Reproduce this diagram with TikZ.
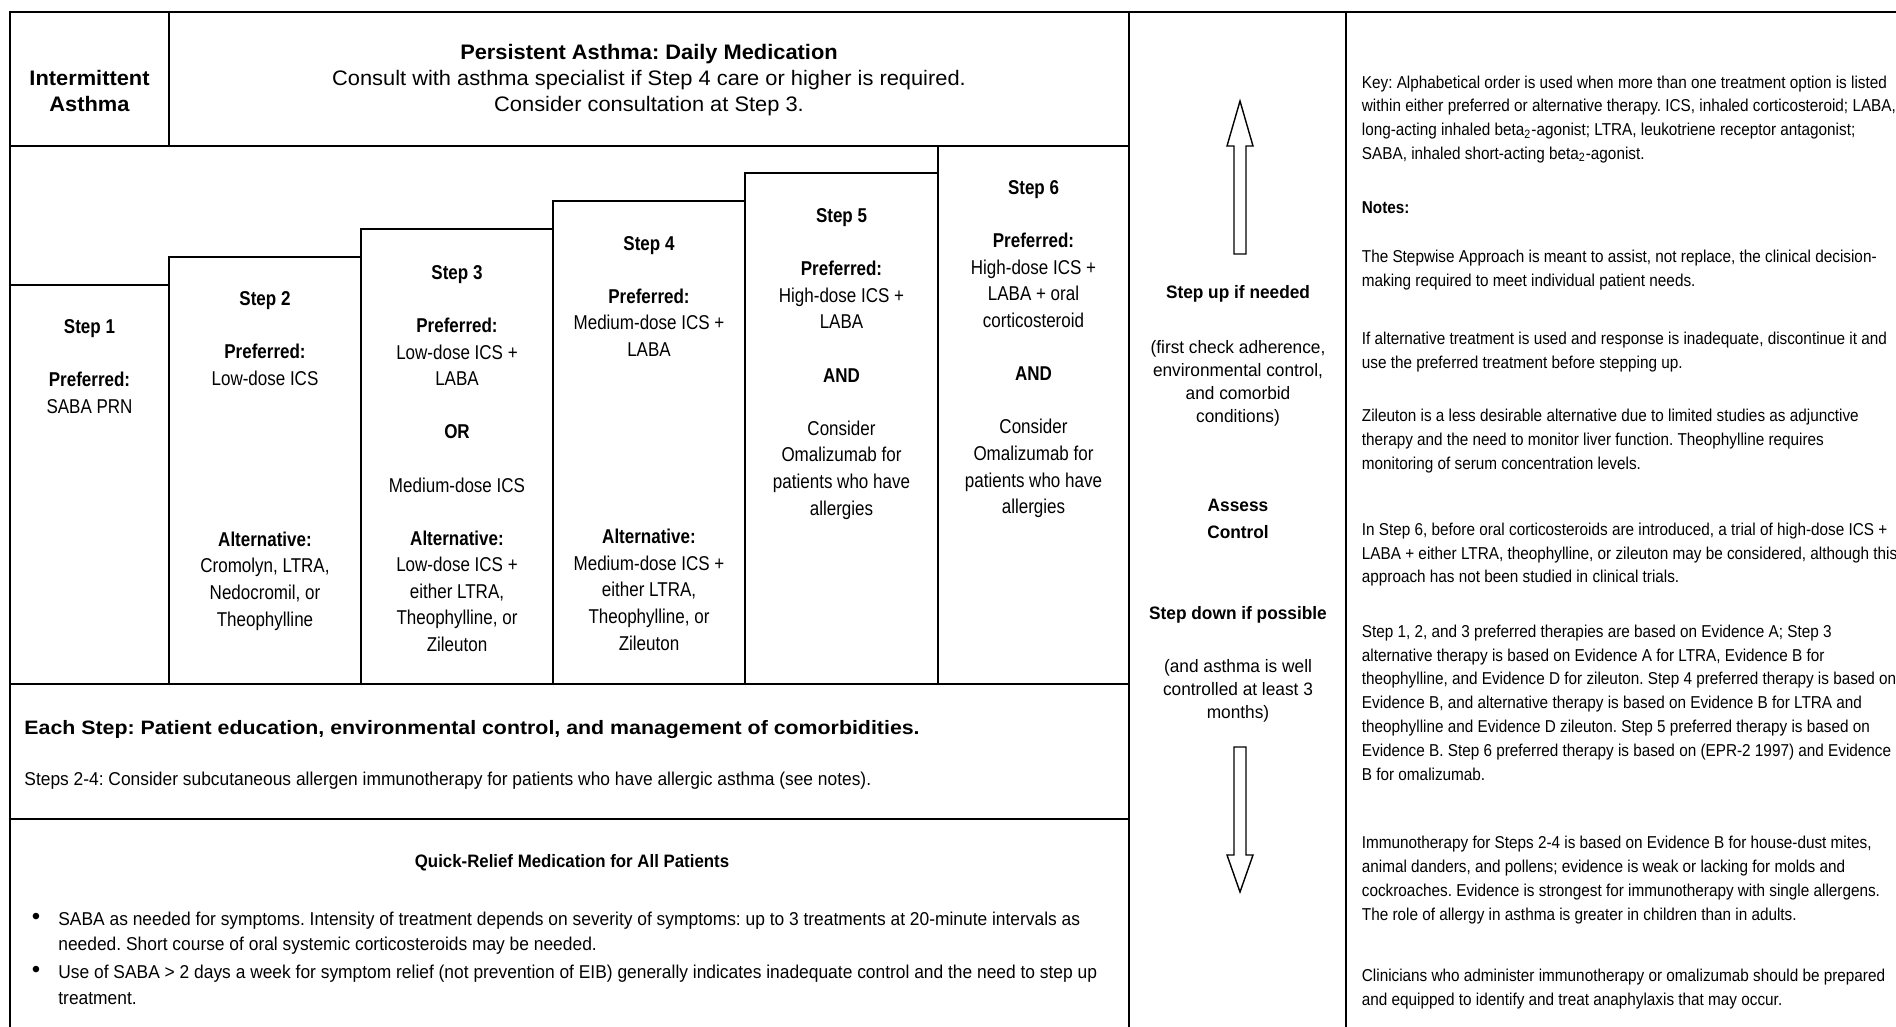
\documentclass[tikz,border=0pt]{standalone}
\usepackage{fontspec}
\setmainfont{Liberation Sans}
\newfontfamily\headfont{Liberation Sans}[FakeStretch=1.04]
\newfontfamily\stepfont{Liberation Sans}[FakeStretch=0.85]
\newfontfamily\midfont{Liberation Sans}[FakeStretch=0.96]
\newfontfamily\bodyfont{Liberation Sans}[FakeStretch=0.935]
\newfontfamily\widefont{Liberation Sans}[FakeStretch=1.1]
\newfontfamily\notefont{Liberation Sans}[FakeStretch=0.89]
\frenchspacing

\begin{document}
\begin{tikzpicture}[
    x=0.5pt, y=-0.5pt,
    rule/.style={line width=1.2pt},
    hollow/.style={line width=0.7pt, line join=miter},
    headtext/.style={align=center, anchor=base, inner sep=0pt, font={\headfont\fontsize{10.5}{13.2}\selectfont}},
    steptext/.style={align=center, anchor=base, inner sep=0pt, font={\stepfont\fontsize{10}{13.3}\selectfont}},
    midtext/.style={align=center, anchor=base, inner sep=0pt, font={\midfont\fontsize{9}{11.5}\selectfont}},
    bodytext/.style={align=left, anchor=base west, inner sep=0pt, font={\bodyfont\fontsize{9.3}{12.6}\selectfont}},
    bullet/.style={anchor=base, inner sep=0pt, font={\fontsize{12}{12}\selectfont}},
    notetext/.style={align=left, anchor=base west, inner sep=0pt, font={\notefont\fontsize{8.6}{11.9}\selectfont}}
]
    \path[use as bounding box, fill=white] (0,0) rectangle (1896,1027);

    % Table frame
    \draw[rule] (10,1027) -- (10,12) -- (1896,12);
    \draw[rule] (169,12) -- (169,146);
    \draw[rule] (10,146) -- (1129,146);
    \draw[rule] (1129,12) -- (1129,1027);
    \draw[rule] (1346,12) -- (1346,1027);
    \draw[rule] (10,684) -- (1129,684);
    \draw[rule] (10,819) -- (1129,819);

    % Staircase of steps
    \draw[rule] (10,285) -- (169,285) -- (169,257) -- (361,257) -- (361,229)
        -- (553,229) -- (553,201) -- (745,201) -- (745,173) -- (938,173) -- (938,146);
    \draw[rule] (169,285) -- (169,684);
    \draw[rule] (361,257) -- (361,684);
    \draw[rule] (553,229) -- (553,684);
    \draw[rule] (745,201) -- (745,684);
    \draw[rule] (938,173) -- (938,684);

    % Header (nodes sit on the baseline of their last line)
    \node[headtext] (intermit) at (89.5,112) {\textbf{Intermittent}\\\textbf{Asthma}};
    \node[headtext] (persist) at (649,112) {\textbf{Persistent Asthma: Daily Medication}\\
        Consult with asthma specialist if Step 4 care or higher is required.\\
        Consider consultation at Step 3.};

    % Steps
    \node[steptext] (s1) at (89.5,413) {\textbf{Step 1}\\[\baselineskip]\textbf{Preferred:}\\SABA PRN};
    \node[steptext] (s2) at (265,385.5) {\textbf{Step 2}\\[\baselineskip]\textbf{Preferred:}\\Low-dose ICS};
    \node[steptext] (alt2) at (265,626) {\textbf{Alternative:}\\Cromolyn, LTRA,\\Nedocromil, or\\Theophylline};
    \node[steptext] (s3) at (457,492) {\textbf{Step 3}\\[\baselineskip]\textbf{Preferred:}\\Low-dose ICS +\\LABA\\[\baselineskip]
        \textbf{OR}\\[\baselineskip]Medium-dose ICS};
    \node[steptext] (alt3) at (457,651.5) {\textbf{Alternative:}\\Low-dose ICS +\\either LTRA,\\Theophylline, or\\Zileuton};
    \node[steptext] (s4) at (649,356.5) {\textbf{Step 4}\\[\baselineskip]\textbf{Preferred:}\\Medium-dose ICS +\\LABA};
    \node[steptext] (alt4) at (649,650) {\textbf{Alternative:}\\Medium-dose ICS +\\either LTRA,\\Theophylline, or\\Zileuton};
    \node[steptext] (s5) at (841.5,515) {\textbf{Step 5}\\[\baselineskip]\textbf{Preferred:}\\High-dose ICS +\\LABA\\[\baselineskip]
        \textbf{AND}\\[\baselineskip]Consider\\Omalizumab for\\patients who have\\allergies};
    \node[steptext] (s6) at (1033.5,513.6) {\textbf{Step 6}\\[\baselineskip]\textbf{Preferred:}\\High-dose ICS +\\LABA + oral\\corticosteroid\\[\baselineskip]
        \textbf{AND}\\[\baselineskip]Consider\\Omalizumab for\\patients who have\\allergies};

    % Step up / step down column
    \draw[hollow] (1234,254) -- (1234,146) -- (1227,146) -- (1240,101) -- (1253,146) -- (1246,146) -- (1246,254) -- cycle;
    \node[midtext] (stepup) at (1238,299) {\textbf{Step up if needed}};
    \node[midtext] (upnote) at (1238,422.5) {(first check adherence,\\environmental control,\\and comorbid\\conditions)};
    \node[midtext, font={\midfont\fontsize{9}{13.3}\selectfont}] (assess) at (1238,538.5) {\textbf{Assess}\\\textbf{Control}};
    \node[midtext] (stepdown) at (1238,619.5) {\textbf{Step down if possible}};
    \node[midtext] (downnote) at (1238,718.5) {(and asthma is well\\controlled at least 3\\months)};
    \draw[hollow] (1234,747) -- (1246,747) -- (1246,855) -- (1253,855) -- (1240,892) -- (1227,855) -- (1234,855) -- cycle;

    % Each step
    \node[bodytext, font={\widefont\fontsize{9.7}{12.6}\selectfont}] (eachstep) at (24,734.5)
        {\textbf{Each Step: Patient education, environmental control, and management of comorbidities.}};
    \node[bodytext] (steps24) at (24,785) {Steps 2-4: Consider subcutaneous allergen immunotherapy for patients who have allergic asthma (see notes).};

    % Quick relief
    \node[bodytext, anchor=base, font={\bodyfont\fontsize{9}{12.6}\selectfont}] (quick) at (572,867.5) {\textbf{Quick-Relief Medication for All Patients}};
    \node[bullet] (dot1) at (36,924.5) {\textbullet};
    \node[bodytext] (item1) at (58,950.5) {SABA as needed for symptoms. Intensity of treatment depends on severity of symptoms: up to 3 treatments at 20-minute intervals as\\
        needed. Short course of oral systemic corticosteroids may be needed.};
    \node[bullet] (dot2) at (36,977.5) {\textbullet};
    \node[bodytext] (item2) at (58,1004) {Use of SABA > 2 days a week for symptom relief (not prevention of EIB) generally indicates inadequate control and the need to step up\\
        treatment.};

    % Key and notes
    \node[notetext] (key) at (1361.5,159.6) {Key: Alphabetical order is used when more than one treatment option is listed\\
        within either preferred or alternative therapy. ICS, inhaled corticosteroid; LABA,\\
        long-acting inhaled beta\textsubscript{2}-agonist; LTRA, leukotriene receptor antagonist;\\
        SABA, inhaled short-acting beta\textsubscript{2}-agonist.};
    \node[notetext] (notes) at (1361.5,214) {\textbf{Notes:}};
    \node[notetext] (note1) at (1361.5,286.5) {The Stepwise Approach is meant to assist, not replace, the clinical decision-\\
        making required to meet individual patient needs.};
    \node[notetext] (note2) at (1361.5,368.8) {If alternative treatment is used and response is inadequate, discontinue it and\\
        use the preferred treatment before stepping up.};
    \node[notetext] (note3) at (1361.5,469) {Zileuton is a less desirable alternative due to limited studies as adjunctive\\
        therapy and the need to monitor liver function. Theophylline requires\\
        monitoring of serum concentration levels.};
    \node[notetext] (note4) at (1361.5,582.8) {In Step 6, before oral corticosteroids are introduced, a trial of high-dose ICS +\\
        LABA + either LTRA, theophylline, or zileuton may be considered, although this\\
        approach has not been studied in clinical trials.};
    \node[notetext] (note5) at (1361.5,780) {Step 1, 2, and 3 preferred therapies are based on Evidence A; Step 3\\
        alternative therapy is based on Evidence A for LTRA, Evidence B for\\
        theophylline, and Evidence D for zileuton. Step 4 preferred therapy is based on\\
        Evidence B, and alternative therapy is based on Evidence B for LTRA and\\
        theophylline and Evidence D zileuton. Step 5 preferred therapy is based on\\
        Evidence B. Step 6 preferred therapy is based on (EPR-2 1997) and Evidence\\
        B for omalizumab.};
    \node[notetext] (note6) at (1361.5,920) {Immunotherapy for Steps 2-4 is based on Evidence B for house-dust mites,\\
        animal danders, and pollens; evidence is weak or lacking for molds and\\
        cockroaches. Evidence is strongest for immunotherapy with single allergens.\\
        The role of allergy in asthma is greater in children than in adults.};
    \node[notetext] (note7) at (1361.5,1005) {Clinicians who administer immunotherapy or omalizumab should be prepared\\
        and equipped to identify and treat anaphylaxis that may occur.};
\end{tikzpicture}
\end{document}
